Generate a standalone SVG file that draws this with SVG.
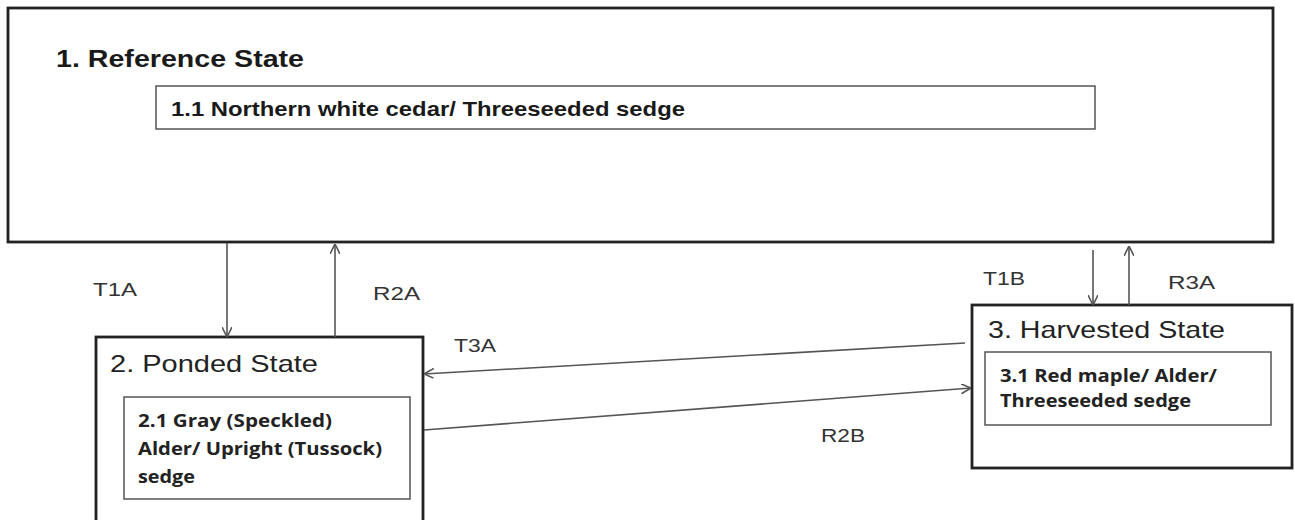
<svg xmlns="http://www.w3.org/2000/svg" width="1295" height="520" viewBox="0 0 1295 520">
<style>
.box{fill:#fff;stroke:#222;stroke-width:2.8}
.inner{fill:#fff;stroke:#555;stroke-width:1.5}
.t1{font-family:"Liberation Sans",Arial,sans-serif;font-weight:bold;fill:#1a1a1a}
.st{font-family:"Liberation Sans",Arial,sans-serif;fill:#222;font-size:24px}
.in{font-family:"Open Sans","Liberation Sans",sans-serif;font-weight:bold;fill:#222;font-size:17px}
.lbl{font-family:"Liberation Sans",Arial,sans-serif;fill:#333;font-size:19px}
.con{stroke:#555;stroke-width:1.6;fill:none;marker-end:url(#ah)}
</style>
<defs>
<marker id="ah" viewBox="0 0 10 10" refX="10" refY="5" markerWidth="10" markerHeight="10" markerUnits="userSpaceOnUse" orient="auto">
<path d="M0,0 L10,5 L0,10" fill="none" stroke="#555" stroke-width="1.6"/>
</marker>
</defs>
<rect width="1295" height="520" fill="#fff"/>
<g id="reference">
<rect class="box" x="8" y="8" width="1265" height="234"/>
<text class="t1" x="56" y="67" font-size="24" textLength="248" lengthAdjust="spacingAndGlyphs">1. Reference State</text>
<rect class="inner" x="156" y="86" width="939" height="43"/>
<text class="t1" x="171" y="116" font-size="21" textLength="514" lengthAdjust="spacingAndGlyphs">1.1 Northern white cedar/  Threeseeded sedge</text>
</g>
<g id="ponded">
<rect class="box" x="96" y="337" width="327" height="190"/>
<text class="st" x="110" y="372" textLength="208" lengthAdjust="spacingAndGlyphs">2. Ponded  State</text>
<rect class="inner" x="124" y="397" width="286" height="102"/>
<text class="in" x="138" y="427" textLength="194" lengthAdjust="spacingAndGlyphs">2.1 Gray (Speckled)</text>
<text class="in" x="138" y="455" textLength="244" lengthAdjust="spacingAndGlyphs">Alder/ Upright (Tussock)</text>
<text class="in" x="138" y="483" textLength="57" lengthAdjust="spacingAndGlyphs">sedge</text>
</g>
<g id="harvested">
<rect class="box" x="972" y="305" width="320" height="163"/>
<text class="st" x="988" y="338" textLength="237" lengthAdjust="spacingAndGlyphs">3. Harvested  State</text>
<rect class="inner" x="985" y="352" width="286" height="73"/>
<text class="in" x="1000" y="382" textLength="217" lengthAdjust="spacingAndGlyphs">3.1 Red maple/ Alder/</text>
<text class="in" x="1000" y="407" textLength="191" lengthAdjust="spacingAndGlyphs">Threeseeded sedge</text>
</g>
<g id="connectors">
<line class="con" x1="227" y1="243" x2="227" y2="337"/>
<line class="con" x1="335" y1="337" x2="335" y2="244"/>
<line class="con" x1="1093" y1="250" x2="1093" y2="305"/>
<line class="con" x1="1129" y1="305" x2="1129" y2="246"/>
<line class="con" x1="965" y1="343" x2="424" y2="374"/>
<line class="con" x1="424" y1="430" x2="971" y2="388"/>
<text class="lbl" x="93" y="296" textLength="44" lengthAdjust="spacingAndGlyphs">T1A</text>
<text class="lbl" x="373" y="300" textLength="47" lengthAdjust="spacingAndGlyphs">R2A</text>
<text class="lbl" x="983" y="285" textLength="42" lengthAdjust="spacingAndGlyphs">T1B</text>
<text class="lbl" x="1168" y="289" textLength="47" lengthAdjust="spacingAndGlyphs">R3A</text>
<text class="lbl" x="454" y="352" textLength="42" lengthAdjust="spacingAndGlyphs">T3A</text>
<text class="lbl" x="821" y="442" textLength="44" lengthAdjust="spacingAndGlyphs">R2B</text>
</g>
</svg>
